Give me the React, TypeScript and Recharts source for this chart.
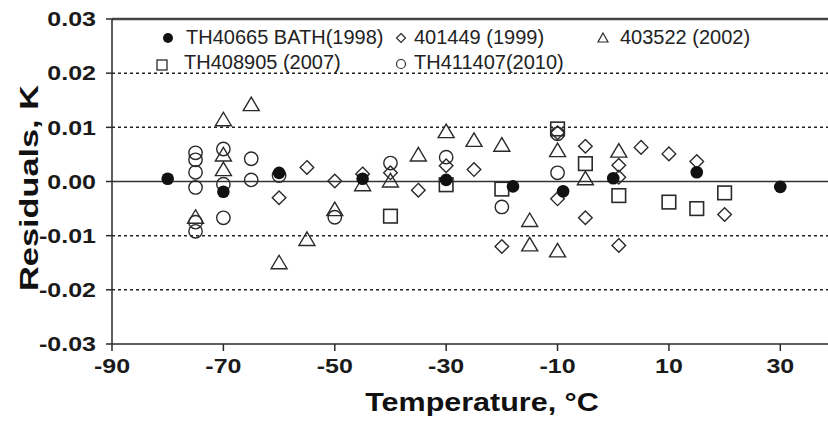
import React from 'react';
import { ScatterChart, Scatter, XAxis, YAxis, ReferenceLine } from 'recharts';

// temperature ticks and residual ticks
const tempTicks = [-90, -70, -50, -30, -10, 10, 30];
const residTicks = [-0.03, -0.02, -0.01, 0, 0.01, 0.02, 0.03];

// TH40665 BATH(1998)
const bathT = [-80, -70, -60, -45, -30, -18, -9, 0, 15, 30];
const bathR = [0.0005, -0.0019, 0.0016, 0.0005, 0.0003, -0.0009, -0.0018, 0.0006, 0.0017, -0.001];

// 401449 (1999)
const s401449T = [-60, -55, -50, -45, -40, -35, -30, -25, -20, -10, -10, -5, -5, 1, 1, 1, 5, 10, 15, 20];
const s401449R = [-0.003, 0.0026, 0.0001, 0.0014, 0.0016, -0.0016, 0.0029, 0.0022, -0.012, 0.009, -0.0032, 0.0065, -0.0067, 0.003, 0.0008, -0.0118, 0.0063, 0.0051, 0.0037, -0.0061];

// 403522 (2002)
const s403522T = [-75, -70, -70, -70, -65, -60, -55, -50, -45, -40, -35, -30, -25, -20, -15, -15, -10, -10, -5, 1];
const s403522R = [-0.0066, 0.0114, 0.0049, 0.0022, 0.0142, -0.015, -0.0107, -0.0052, -0.0006, 0.0001, 0.0049, 0.0092, 0.0076, 0.0067, -0.0072, -0.0117, 0.0057, -0.0128, 0.0005, 0.0056];

// TH408905 (2007)
const th408905T = [-40, -30, -20, -10, -5, 1, 10, 15, 20];
const th408905R = [-0.0064, -0.0006, -0.0014, 0.0097, 0.0033, -0.0026, -0.0038, -0.005, -0.0021];

// TH411407(2010)
const th411407T = [-75, -75, -75, -75, -75, -75, -70, -70, -70, -65, -65, -60, -50, -40, -30, -20, -10, -10];
const th411407R = [0.0053, 0.004, 0.0017, -0.0011, -0.0075, -0.0092, 0.006, -0.0005, -0.0067, 0.0042, 0.0003, 0.0011, -0.0066, 0.0034, 0.0045, -0.0047, 0.0016, 0.0088];

const pts = (xs: number[], ys: number[]) => xs.map((x, i) => ({ x, y: ys[i] }));

const INK = '#2a2a2a';
const FONT = '"Liberation Sans", Arial, sans-serif';
const STRETCH = 1.25; // the figure's lettering is wider than plain Arial

const FilledDot = (p: any) => <circle cx={p.cx} cy={p.cy} r={6.3} fill="#111" />;
const OpenDot = (p: any) => <circle cx={p.cx} cy={p.cy} r={6.7} fill="none" stroke={INK} strokeWidth={1.4} />;
const Diamond = (p: any) => (
  <polygon points={`${p.cx},${p.cy - 6.8} ${p.cx + 6.8},${p.cy} ${p.cx},${p.cy + 6.8} ${p.cx - 6.8},${p.cy}`} fill="none" stroke={INK} strokeWidth={1.4} />
);
const Triangle = (p: any) => (
  <polygon points={`${p.cx},${p.cy - 7.5} ${p.cx + 8},${p.cy + 6} ${p.cx - 8},${p.cy + 6}`} fill="none" stroke={INK} strokeWidth={1.4} />
);
const Square = (p: any) => <rect x={p.cx - 6.8} y={p.cy - 6.8} width={13.6} height={13.6} fill="none" stroke={INK} strokeWidth={1.6} />;

const XTick = (p: any) => (
  <g transform={`translate(${p.x},${p.y}) scale(${STRETCH},1)`}>
    <text x={0} y={0} dy="0.8em" textAnchor="middle" fill="#1a1a1a" fontSize={20} fontWeight={700} fontFamily={FONT}>
      {p.payload.value}
    </text>
  </g>
);

const YTick = (p: any) => (
  <g transform={`translate(${p.x},${p.y}) scale(${STRETCH},1)`}>
    <text x={0} y={0} dy="0.36em" textAnchor="end" fill="#1a1a1a" fontSize={20} fontWeight={700} fontFamily={FONT}>
      {Number(p.payload.value).toFixed(2)}
    </text>
  </g>
);

const legendItems = [
  { label: 'TH40665 BATH(1998)', x: 160, y: 38, gap: 10, mark: <circle cx={8} cy={8} r={5} fill="#111" /> },
  { label: '401449 (1999)', x: 393, y: 38, gap: 5, mark: <polygon points="8,3.5 12.5,8 8,12.5 3.5,8" fill="none" stroke={INK} strokeWidth={1.2} /> },
  { label: '403522 (2002)', x: 595, y: 38, gap: 9, mark: <polygon points="8,3 13,12 3,12" fill="none" stroke={INK} strokeWidth={1.2} /> },
  { label: 'TH408905 (2007)', x: 154, y: 63, gap: 14, mark: <rect x={3} y={5} width={10} height={10} fill="none" stroke={INK} strokeWidth={1.3} /> },
  { label: 'TH411407(2010)', x: 393, y: 63, gap: 5, mark: <circle cx={8} cy={9} r={4.5} fill="none" stroke={INK} strokeWidth={1.2} /> },
];

export default function App() {
  return (
    <div style={{ position: 'absolute', left: 0, top: 0, width: 828, height: 421, overflow: 'hidden', background: '#fff' }}>
      <ScatterChart width={850} height={421} margin={{ top: 19, right: 14, bottom: 0, left: 52 }}>
        <XAxis
          type="number"
          dataKey="x"
          domain={[-90, 40]}
          ticks={tempTicks}
          allowDataOverflow
          stroke={INK}
          strokeWidth={1.5}
          tickSize={7}
          tickMargin={6}
          height={77}
          tick={<XTick />}
          label={{
            content: () => (
              <g transform={`translate(482,411) scale(1.22,1)`}>
                <text x={0} y={0} textAnchor="middle" fill="#111" fontSize={25} fontWeight={700} fontFamily={FONT}>
                  Temperature, °C
                </text>
              </g>
            ),
          }}
        />
        <YAxis
          type="number"
          dataKey="y"
          domain={[-0.03, 0.03]}
          ticks={residTicks}
          allowDataOverflow
          width={60}
          stroke={INK}
          strokeWidth={1.5}
          tickSize={6}
          tickMargin={10}
          tick={<YTick />}
          label={{
            content: () => (
              <g transform={`translate(38,188) rotate(-90) scale(1.32,1)`}>
                <text x={0} y={0} textAnchor="middle" fill="#111" fontSize={26} fontWeight={700} fontFamily={FONT}>
                  Residuals, K
                </text>
              </g>
            ),
          }}
        />
        {[-0.02, -0.01, 0.01, 0.02].map((v) => (
          <ReferenceLine key={v} y={v} stroke="#222" strokeWidth={1.5} strokeDasharray="3 3" />
        ))}
        <ReferenceLine y={0} stroke="#333" strokeWidth={1.5} />
        <ReferenceLine y={0.03} stroke="#444" strokeWidth={2.5} />
        <Scatter name="TH411407(2010)" data={pts(th411407T, th411407R)} shape={OpenDot} isAnimationActive={false} />
        <Scatter name="403522 (2002)" data={pts(s403522T, s403522R)} shape={Triangle} isAnimationActive={false} />
        <Scatter name="401449 (1999)" data={pts(s401449T, s401449R)} shape={Diamond} isAnimationActive={false} />
        <Scatter name="TH408905 (2007)" data={pts(th408905T, th408905R)} shape={Square} isAnimationActive={false} />
        <Scatter name="TH40665 BATH(1998)" data={pts(bathT, bathR)} shape={FilledDot} isAnimationActive={false} />
      </ScatterChart>
      {legendItems.map((it) => (
        <div
          key={it.label}
          style={{ position: 'absolute', left: it.x, top: it.y - 12, display: 'flex', alignItems: 'center', fontFamily: FONT, fontSize: 20, color: '#222', whiteSpace: 'nowrap' }}
        >
          <svg width={16} height={16} style={{ marginRight: it.gap }}>{it.mark}</svg>
          <span>{it.label}</span>
        </div>
      ))}
    </div>
  );
}
